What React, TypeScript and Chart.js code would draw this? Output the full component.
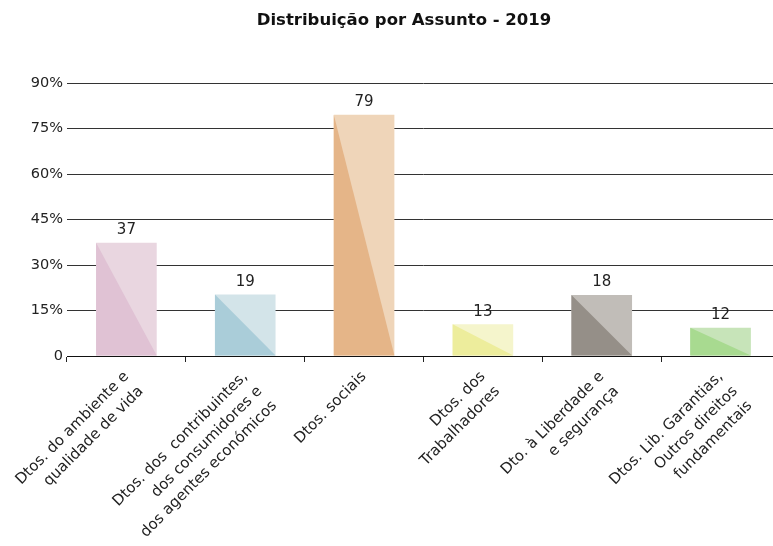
import React, { useEffect, useRef } from 'react';
import { Chart, registerables } from 'chart.js';

Chart.register(...registerables);

const chartTitle = 'Distribuição por Assunto - 2019';
const categories: string[][] = [
  ['Dtos. do ambiente e', 'qualidade de vida'],
  ['Dtos. dos  contribuintes,', 'dos consumidores e', 'dos agentes económicos'],
  ['Dtos. sociais'],
  ['Dtos. dos', 'Trabalhadores'],
  ['Dto. à Liberdade e', 'e segurança'],
  ['Dtos. Lib. Garantias,', 'Outros direitos', 'fundamentais'],
];
const values = [37.3, 20.3, 79.5, 10.5, 20.1, 9.3];
const valueLabels = ['37', '19', '79', '13', '18', '12'];
const lightColors = ['#E9D6E0', '#D3E4E9', '#EFD5B9', '#F5F5CC', '#C1BDB8', '#C7E4B9'];
const darkColors = ['#E0C2D4', '#AACDD9', '#E5B588', '#EDED9C', '#958F88', '#A8DA90'];
const yMax = 90;
const yStep = 15;

const FONT = "'DejaVu Sans', sans-serif";
const TEXT = '#222222';

const decorPlugin = {
  id: 'decor',
  afterDatasetsDraw(chart: any) {
    const ctx = chart.ctx;
    const meta = chart.getDatasetMeta(0);
    meta.data.forEach((bar: any, i: number) => {
      const { x, y, base, width } = bar.getProps(['x', 'y', 'base', 'width'], true);
      const l = x - width / 2;
      const r = x + width / 2;
      ctx.save();
      ctx.fillStyle = darkColors[i];
      ctx.beginPath();
      ctx.moveTo(l, y);
      ctx.lineTo(r, base);
      ctx.lineTo(l, base);
      ctx.closePath();
      ctx.fill();
      ctx.fillStyle = TEXT;
      ctx.font = `15px ${FONT}`;
      ctx.textAlign = 'center';
      ctx.textBaseline = 'bottom';
      ctx.fillText(valueLabels[i], x, y - 5);
      ctx.restore();
    });
  },
  afterDraw(chart: any) {
    const ctx = chart.ctx;
    ctx.save();
    ctx.fillStyle = '#111111';
    ctx.font = `bold 16.5px ${FONT}`;
    ctx.textAlign = 'center';
    ctx.textBaseline = 'middle';
    ctx.fillText(chartTitle, 404, 21);
    ctx.restore();
  },
};

export default function App() {
  const ref = useRef<HTMLCanvasElement | null>(null);
  useEffect(() => {
    if (!ref.current) return;
    const chart = new Chart(ref.current, {
      type: 'bar',
      data: {
        labels: categories,
        datasets: [
          {
            data: values,
            backgroundColor: lightColors,
            borderWidth: 0,
            categoryPercentage: 1,
            barPercentage: 0.51,
          },
        ],
      },
      options: {
        animation: false,
        responsive: false,
        maintainAspectRatio: false,
        layout: { padding: { top: 83, left: 0, right: 5, bottom: 0 } },
        plugins: {
          legend: { display: false },
          tooltip: { enabled: false },
          title: { display: false },
        },
        scales: {
          x: {
            offset: true,
            grid: {
              display: true,
              offset: true,
              drawOnChartArea: false,
              drawTicks: true,
              tickLength: 6,
              color: '#222222',
            },
            border: { display: true, color: '#111111', width: 1 },
            ticks: {
              autoSkip: false,
              minRotation: 45,
              maxRotation: 45,
              color: TEXT,
              padding: 5,
              font: { family: FONT, size: 15, lineHeight: 1.38 },
            },
            afterFit: (s: any) => {
              s.height = 190;
            },
          },
          y: {
            min: 0,
            max: yMax,
            ticks: {
              stepSize: yStep,
              color: TEXT,
              padding: 4,
              font: { family: FONT, size: 14.5 },
              callback: (v: any) => (Number(v) === 0 ? '0' : `${v}%`),
            },
            grid: { color: '#333333', drawTicks: false, lineWidth: 1 },
            border: { display: false },
            afterFit: (s: any) => {
              s.width = 67;
            },
          },
        },
      },
      plugins: [decorPlugin],
    });
    return () => chart.destroy();
  }, []);

  return (
    <div
      style={{
        position: 'fixed',
        left: 0,
        top: 0,
        width: 773,
        height: 546,
        overflow: 'hidden',
        background: '#ffffff',
      }}
    >
      <canvas ref={ref} width={785} height={546} style={{ display: 'block' }} />
    </div>
  );
}
